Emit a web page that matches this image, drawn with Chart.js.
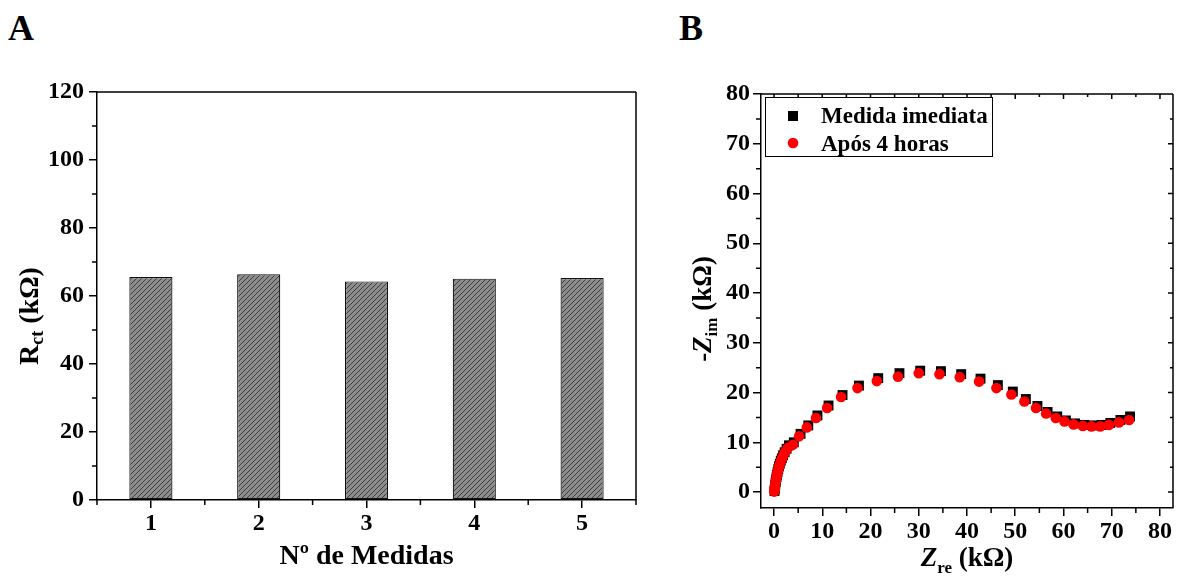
<!DOCTYPE html>
<html>
<head>
<meta charset="utf-8">
<script src="https://cdn.jsdelivr.net/npm/chart.js@4.4.1/dist/chart.umd.min.js"></script>
<style>
  html, body { margin: 0; padding: 0; background: #fff; }
  #wrap { position: relative; width: 1189px; height: 576px; overflow: hidden; }
  #wrap canvas { position: absolute; top: 0; }
  #cA { left: 0; }
  #cB { left: 650px; }
  .panel { position: absolute; font: bold 36px "Liberation Serif", serif; line-height: 36px; color: #000; }
</style>
</head>
<body>
<div id="wrap">
  <div class="panel" style="left:8px; top:10px;">A</div>
  <div class="panel" style="left:679px; top:10px;">B</div>
  <canvas id="cA" width="650" height="576"></canvas>
  <canvas id="cB" width="539" height="576"></canvas>
</div>
<script>
// ---- Panel A: charge-transfer resistance per measurement ----
const measureLabels = ['1', '2', '3', '4', '5'];
const rctValues = [65.6, 66.4, 64.3, 65.1, 65.3];
const rctTicks = [0, 20, 40, 60, 80, 100, 120];
const rctMinorTicks = [10, 30, 50, 70, 90, 110];

// ---- Panel B: Nyquist plot ----
const zreImmediate = [0.1, 0.15, 0.2, 0.26, 0.34, 0.42, 0.52, 0.62, 0.74, 0.88, 1.03, 1.2, 1.4, 1.62, 1.88, 2.2, 2.6, 3.1,
  4.1, 5.5, 7.1, 9.0, 11.3, 14.2, 17.6, 21.6, 26.0, 30.3, 34.6, 38.8, 42.8, 46.4, 49.5, 52.2, 54.6, 56.7, 58.7, 60.5,
  62.4, 64.3, 66.1, 67.9, 69.7, 71.8, 73.8];
const zimImmediate = [0.2, 0.6, 1.0, 1.5, 2.0, 2.5, 3.0, 3.5, 4.0, 4.6, 5.2, 5.7, 6.3, 6.8, 7.4, 8.0, 8.7, 9.4,
  10.0, 11.7, 13.4, 15.4, 17.4, 19.5, 21.4, 22.9, 23.9, 24.4, 24.3, 23.7, 22.8, 21.5, 20.2, 18.7, 17.3, 16.1, 15.2, 14.4,
  13.8, 13.5, 13.4, 13.5, 13.9, 14.5, 15.2];
const zreAfter4h = [0.05, 0.1, 0.15, 0.2, 0.28, 0.36, 0.45, 0.55, 0.66, 0.8, 0.95, 1.1, 1.3, 1.5, 1.75, 2.05, 2.4, 2.9,
  3.9, 5.2, 6.8, 8.7, 11.0, 13.9, 17.3, 21.3, 25.7, 30.0, 34.3, 38.5, 42.5, 46.1, 49.2, 51.9, 54.3, 56.4, 58.4, 60.2,
  62.1, 64.0, 65.8, 67.6, 69.4, 71.5, 73.6];
const zimAfter4h = [0.1, 0.4, 0.8, 1.2, 1.7, 2.2, 2.7, 3.2, 3.7, 4.2, 4.8, 5.3, 5.9, 6.4, 7.0, 7.6, 8.2, 8.9,
  9.5, 11.2, 13.0, 14.9, 16.9, 19.1, 20.9, 22.3, 23.2, 23.9, 23.7, 23.1, 22.2, 20.9, 19.6, 18.2, 16.9, 15.8, 14.9, 14.2,
  13.6, 13.3, 13.2, 13.2, 13.5, 14.0, 14.5];
const nyquistTicks = [0, 10, 20, 30, 40, 50, 60, 70, 80];
const nyquistMinorTicks = [5, 15, 25, 35, 45, 55, 65, 75];
const seriesNames = ['Medida imediata', 'Após 4 horas'];

const SERIF = '"Liberation Serif", "Times New Roman", serif';
const tickFont = { family: SERIF, size: 24, weight: 'bold' };

Chart.defaults.animation = false;
Chart.defaults.events = [];

// grey fill crossed by thin dark "/" lines
function hatchPattern(ctx) {
  const c = document.createElement('canvas');
  c.width = 5; c.height = 5;
  const g = c.getContext('2d');
  g.fillStyle = '#8c8c8c';
  g.fillRect(0, 0, 5, 5);
  g.strokeStyle = '#2b2b2b';
  g.lineWidth = 0.8;
  g.beginPath();
  g.moveTo(-1, 6); g.lineTo(6, -1);
  g.stroke();
  return ctx.createPattern(c, 'repeat');
}

// draws a title made of runs (normal / subscript), centred on (cx, baseline)
function drawRich(ctx, parts, cx, baseline, rotated) {
  ctx.save();
  ctx.translate(cx, baseline);
  if (rotated) ctx.rotate(-Math.PI / 2);
  ctx.fillStyle = '#000';
  ctx.textAlign = 'left';
  ctx.textBaseline = 'alphabetic';
  let total = 0;
  parts.forEach(p => { ctx.font = p.font; p.w = ctx.measureText(p.text).width; total += p.w; });
  let x = -total / 2;
  parts.forEach(p => { ctx.font = p.font; ctx.fillText(p.text, x, p.dy || 0); x += p.w; });
  ctx.restore();
}

function tick(ctx, x1, y1, x2, y2) {
  ctx.moveTo(x1, y1); ctx.lineTo(x2, y2);
}

// ---------- Panel A ----------
const panelA = {
  id: 'panelA',
  afterDraw(chart) {
    const { ctx, chartArea: a, scales: { x, y } } = chart;
    ctx.save();
    ctx.strokeStyle = '#000';
    ctx.lineWidth = 1.5;
    ctx.beginPath();
    tick(ctx, a.left, a.top, a.right, a.top);
    tick(ctx, a.right, a.top, a.right, a.bottom);
    rctMinorTicks.forEach(v => { const py = y.getPixelForValue(v); tick(ctx, a.left - 5, py, a.left, py); });
    const step = x.getPixelForValue(1) - x.getPixelForValue(0);
    for (let i = 0; i <= measureLabels.length; i++) {
      const px = x.getPixelForValue(i) - step / 2;
      tick(ctx, px, a.bottom, px, a.bottom + 5);
    }
    ctx.stroke();
    ctx.restore();

    drawRich(ctx, [{ text: 'Nº de Medidas', font: 'bold 28px ' + SERIF }], (a.left + a.right) / 2, 564, false);
    drawRich(ctx, [
      { text: 'R', font: 'bold 28px ' + SERIF },
      { text: 'ct', font: 'bold 18px ' + SERIF, dy: 5 },
      { text: ' (kΩ)', font: 'bold 28px ' + SERIF }
    ], 38, 316, true);
  }
};

new Chart(document.getElementById('cA'), {
  type: 'bar',
  data: {
    labels: measureLabels,
    datasets: [{
      data: rctValues,
      backgroundColor: ctx => hatchPattern(ctx.chart.ctx),
      borderColor: '#111',
      borderWidth: 1.2,
      borderSkipped: false,
      barPercentage: 0.4,
      categoryPercentage: 1
    }]
  },
  options: {
    responsive: false,
    maintainAspectRatio: false,
    layout: { padding: { top: 92, right: 14, left: 0, bottom: 0 } },
    plugins: { legend: { display: false }, tooltip: { enabled: false } },
    scales: {
      x: {
        offset: true,
        grid: { display: true, drawOnChartArea: false, drawTicks: true, tickLength: 8, color: '#000', lineWidth: 1.5, offset: false },
        border: { display: true, color: '#000', width: 1.5 },
        ticks: { font: tickFont, color: '#000', padding: 1, maxRotation: 0 },
        afterFit(s) { s.height = 76; }
      },
      y: {
        min: 0, max: 120,
        grid: { display: true, drawOnChartArea: false, drawTicks: true, tickLength: 8, color: '#000', lineWidth: 1.5 },
        border: { display: true, color: '#000', width: 1.5 },
        ticks: { font: tickFont, color: '#000', padding: 5 },
        afterBuildTicks(s) { s.ticks = rctTicks.map(v => ({ value: v })); },
        afterFit(s) { s.width = 97; }
      }
    }
  },
  plugins: [panelA]
});

// ---------- Panel B ----------
const panelB = {
  id: 'panelB',
  afterDraw(chart) {
    const { ctx, chartArea: a, scales: { x, y } } = chart;
    ctx.save();
    ctx.strokeStyle = '#000';
    ctx.lineWidth = 1.5;
    ctx.beginPath();
    tick(ctx, a.left, a.top, a.right, a.top);
    tick(ctx, a.right, a.top, a.right, a.bottom);
    nyquistMinorTicks.forEach(v => {
      const py = y.getPixelForValue(v);
      tick(ctx, a.left - 5, py, a.left, py);
      tick(ctx, a.right, py, a.right - 3, py);
      const px = x.getPixelForValue(v);
      tick(ctx, px, a.bottom, px, a.bottom + 5);
      tick(ctx, px, a.top, px, a.top + 3);
    });
    nyquistTicks.forEach(v => {
      const py = y.getPixelForValue(v);
      tick(ctx, a.right, py, a.right - 5, py);
      const px = x.getPixelForValue(v);
      tick(ctx, px, a.top, px, a.top + 5);
    });
    ctx.stroke();

    // legend box
    const bx = 765 - 650, by = 97, bw = 227, bh = 59;
    ctx.fillStyle = '#fff';
    ctx.fillRect(bx, by, bw, bh);
    ctx.lineWidth = 1;
    ctx.strokeRect(bx + 0.5, by + 0.5, bw, bh);
    ctx.fillStyle = '#000';
    ctx.fillRect(793 - 650 - 5, 116 - 5, 10, 10);
    ctx.fillStyle = '#ff0000';
    ctx.beginPath();
    ctx.arc(793 - 650, 143, 5.3, 0, Math.PI * 2);
    ctx.fill();
    ctx.fillStyle = '#000';
    ctx.font = 'bold 23px ' + SERIF;
    ctx.textAlign = 'left';
    ctx.textBaseline = 'alphabetic';
    ctx.fillText(seriesNames[0], 821 - 650, 123);
    ctx.fillText(seriesNames[1], 821 - 650, 151);
    ctx.restore();

    drawRich(ctx, [
      { text: 'Z', font: 'italic bold 27px ' + SERIF },
      { text: 're', font: 'bold 17px ' + SERIF, dy: 7 },
      { text: ' (kΩ)', font: 'bold 27px ' + SERIF }
    ], (a.left + a.right) / 2, 566, false);
    drawRich(ctx, [
      { text: '-', font: 'bold 27px ' + SERIF },
      { text: 'Z', font: 'italic bold 27px ' + SERIF },
      { text: 'im', font: 'bold 17px ' + SERIF, dy: 6 },
      { text: ' (kΩ)', font: 'bold 27px ' + SERIF }
    ], 711 - 650, 309, true);
  }
};

new Chart(document.getElementById('cB'), {
  type: 'scatter',
  data: {
    datasets: [
      {
        label: seriesNames[1],
        data: zreAfter4h.map((v, i) => ({ x: v, y: zimAfter4h[i] })),
        pointStyle: 'circle',
        pointRadius: 5.3,
        backgroundColor: '#ff0000',
        borderWidth: 0,
        pointBorderWidth: 0
      },
      {
        label: seriesNames[0],
        data: zreImmediate.map((v, i) => ({ x: v, y: zimImmediate[i] })),
        pointStyle: 'rect',
        pointRadius: 7,
        backgroundColor: '#000',
        borderWidth: 0,
        pointBorderWidth: 0
      }
    ]
  },
  options: {
    responsive: false,
    maintainAspectRatio: false,
    layout: { padding: { top: 94, right: 16, left: 0, bottom: 0 } },
    plugins: { legend: { display: false }, tooltip: { enabled: false } },
    scales: {
      x: {
        type: 'linear', min: -2.7, max: 82.7,
        grid: { display: true, drawOnChartArea: false, drawTicks: true, tickLength: 8, color: '#000', lineWidth: 1.5 },
        border: { display: true, color: '#000', width: 1.5 },
        ticks: { font: tickFont, color: '#000', padding: 1, maxRotation: 0 },
        afterBuildTicks(s) { s.ticks = nyquistTicks.map(v => ({ value: v })); },
        afterFit(s) { s.height = 68; }
      },
      y: {
        type: 'linear', min: -3.2, max: 80,
        grid: { display: true, drawOnChartArea: false, drawTicks: true, tickLength: 8, color: '#000', lineWidth: 1.5 },
        border: { display: true, color: '#000', width: 1.5 },
        ticks: { font: tickFont, color: '#000', padding: 3 },
        afterBuildTicks(s) { s.ticks = nyquistTicks.map(v => ({ value: v })); },
        afterFit(s) { s.width = 111; }
      }
    }
  },
  plugins: [panelB]
});
</script>
</body>
</html>
